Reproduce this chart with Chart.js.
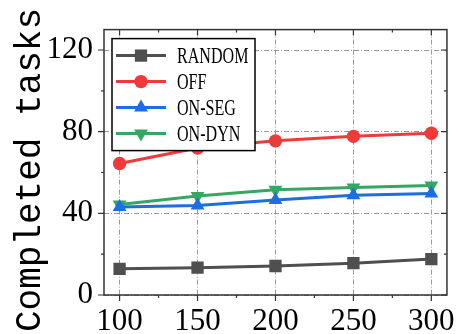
<!DOCTYPE html>
<html>
<head>
<meta charset="utf-8">
<script src="https://cdn.jsdelivr.net/npm/chart.js@4.4.1/dist/chart.umd.min.js"></script>
<style>
html,body{margin:0;padding:0;background:#fff;}
#wrap{width:463px;height:334px;position:relative;}
</style>
</head>
<body>
<div id="wrap"><canvas id="c" width="463" height="334"></canvas></div>
<script>
const categories = [100, 150, 200, 250, 300];
const seriesNames = ['RANDOM', 'OFF', 'ON-SEG', 'ON-DYN'];
const randomVals = [12.8, 13.4, 14.2, 15.6, 17.6];
const offVals = [64.4, 72.0, 75.5, 77.7, 79.2];
const onSegVals = [43.1, 43.9, 46.5, 48.8, 49.7];
const onDynVals = [44.3, 48.5, 51.6, 52.7, 53.6];
const xTicks = [100, 150, 200, 250, 300];
const xMinorTicks = [125, 175, 225, 275];
const yTicks = [0, 40, 80, 120];
const yMinorTicks = [20, 60, 100];
const yTitle = 'Completed tasks';

const styles = [
  {color:'#4f4f4f', point:'rect', radius:8.7, rot:0},
  {color:'#f03a3a', point:'circle', radius:6.7, rot:0},
  {color:'#1b6ee3', point:'triangle', radius:8, rot:0},
  {color:'#33a862', point:'triangle', radius:8, rot:180}
];
const allVals = [randomVals, offVals, onSegVals, onDynVals];

const datasets = seriesNames.map((n, i) => ({
  label: n,
  data: categories.map((x, j) => ({x: x, y: allVals[i][j]})),
  borderColor: styles[i].color,
  backgroundColor: styles[i].color,
  pointBackgroundColor: styles[i].color,
  pointBorderColor: styles[i].color,
  pointStyle: styles[i].point,
  pointRadius: styles[i].radius,
  pointRotation: styles[i].rot,
  pointBorderWidth: 0,
  borderWidth: 3,
  tension: 0
}));

function marker(ctx, style, radius, rot, x, y) {
  ctx.beginPath();
  if (style === 'circle') {
    ctx.arc(x, y, radius, 0, Math.PI * 2);
  } else if (style === 'rect') {
    const s = radius * Math.SQRT1_2;
    ctx.rect(x - s, y - s, 2 * s, 2 * s);
  } else {
    const r = rot * Math.PI / 180;
    for (let k = 0; k < 3; k++) {
      const ang = r - Math.PI / 2 + k * 2 * Math.PI / 3;
      const px = x + Math.cos(ang) * radius, py = y + Math.sin(ang) * radius;
      if (k === 0) ctx.moveTo(px, py); else ctx.lineTo(px, py);
    }
    ctx.closePath();
  }
  ctx.fill();
}

const framePlugin = {
  id: 'frame',
  afterDraw(chart) {
    const ctx = chart.ctx;
    const a = chart.chartArea;
    const xs = chart.scales.x, ys = chart.scales.y;
    ctx.save();
    ctx.strokeStyle = '#333';
    ctx.lineWidth = 1.5;
    ctx.strokeRect(a.left, a.top, a.right - a.left, a.bottom - a.top);
    ctx.lineWidth = 1.2;
    ctx.beginPath();
    const tick = (v, len, isX) => {
      if (isX) {
        const p = xs.getPixelForValue(v);
        ctx.moveTo(p, a.bottom); ctx.lineTo(p, a.bottom + len);
        ctx.moveTo(p, a.top); ctx.lineTo(p, a.top + len);
      } else {
        const p = ys.getPixelForValue(v);
        ctx.moveTo(a.left, p); ctx.lineTo(a.left - len, p);
        ctx.moveTo(a.right, p); ctx.lineTo(a.right - len, p);
      }
    };
    xTicks.forEach(v => tick(v, 6, true));
    xMinorTicks.forEach(v => tick(v, 3, true));
    yTicks.forEach(v => tick(v, 6, false));
    yMinorTicks.forEach(v => tick(v, 3, false));
    ctx.stroke();

    ctx.fillStyle = '#000';
    ctx.font = '36px "Liberation Mono"';
    ctx.textAlign = 'center';
    ctx.textBaseline = 'middle';
    ctx.translate(30, 170);
    ctx.rotate(-Math.PI / 2);
    ctx.fillText(yTitle, 0, 0);
    ctx.restore();

    ctx.save();
    const lx = a.left + 8, ly = a.top + 9, lw = 143, lh = 112;
    ctx.fillStyle = '#fff';
    ctx.fillRect(lx, ly, lw, lh);
    ctx.strokeStyle = '#000';
    ctx.lineWidth = 1.5;
    ctx.strokeRect(lx, ly, lw, lh);
    chart.data.datasets.forEach((ds, i) => {
      const y = ly + 17 + i * 26;
      ctx.strokeStyle = ds.borderColor;
      ctx.lineWidth = 3;
      ctx.beginPath();
      ctx.moveTo(lx + 4, y); ctx.lineTo(lx + 54, y);
      ctx.stroke();
      ctx.fillStyle = ds.borderColor;
      marker(ctx, ds.pointStyle, ds.pointRadius, ds.pointRotation, lx + 29, y);
      ctx.save();
      ctx.fillStyle = '#000';
      ctx.font = '24px "Liberation Serif"';
      ctx.textAlign = 'left';
      ctx.textBaseline = 'middle';
      ctx.translate(lx + 65, y + 1);
      ctx.scale(0.67, 1);
      ctx.fillText(ds.label, 0, 0);
      ctx.restore();
    });
    ctx.restore();
  }
};

new Chart(document.getElementById('c'), {
  type: 'line',
  data: { datasets: datasets },
  plugins: [framePlugin],
  options: {
    responsive: false,
    animation: false,
    devicePixelRatio: 1,
    layout: { padding: { top: 14, right: 8, left: 0, bottom: 0 } },
    plugins: { legend: { display: false }, tooltip: { enabled: false } },
    scales: {
      x: {
        type: 'linear',
        min: 90, max: 310,
        afterBuildTicks: s => { s.ticks = xTicks.map(v => ({value: v})); },
        afterFit: s => { s.height = 39; },
        grid: { color: '#9a9a9a', lineWidth: 1, drawTicks: false },
        border: { display: false, dash: [5, 2, 1, 2] },
        ticks: { color: '#000', font: { family: 'Liberation Serif', size: 31 }, padding: 8, maxRotation: 0 }
      },
      y: {
        type: 'linear',
        min: 0, max: 130,
        afterBuildTicks: s => { s.ticks = yTicks.map(v => ({value: v})); },
        afterFit: s => { s.width = 104; },
        grid: { color: '#9a9a9a', lineWidth: 1, drawTicks: false },
        border: { display: false, dash: [5, 2, 1, 2] },
        ticks: { color: '#000', font: { family: 'Liberation Serif', size: 31 }, padding: 11 }
      }
    }
  }
});
</script>
</body>
</html>
